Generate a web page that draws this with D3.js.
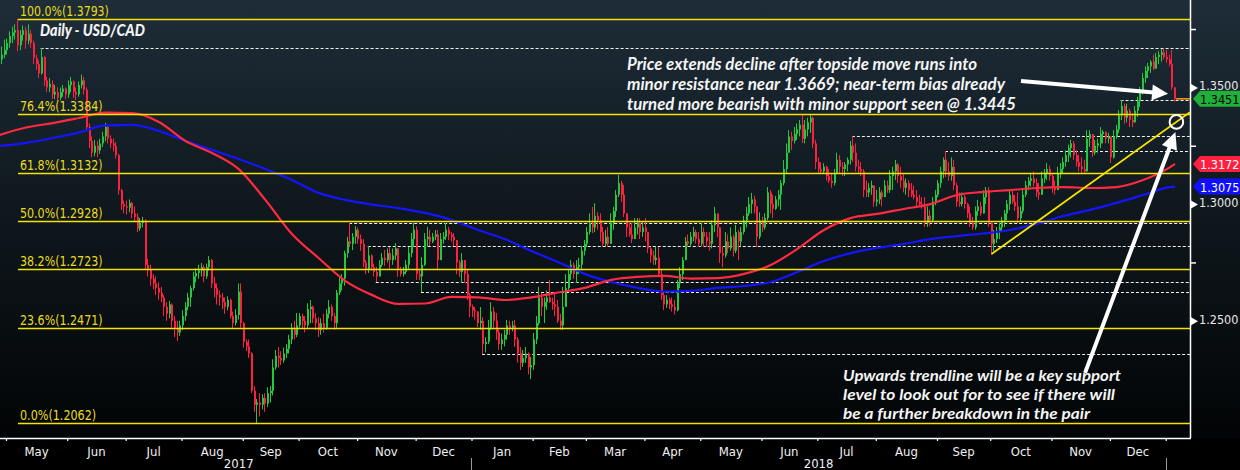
<!DOCTYPE html>
<html><head><meta charset="utf-8">
<script src="https://cdn.jsdelivr.net/npm/d3@7"></script>
<style>html,body{margin:0;padding:0;background:#000;} svg{display:block;}</style>
</head><body>
<svg id="chart" width="1240" height="470"></svg>
<script>
// ---------------- DATA ----------------
const startDate = "2017-04-26";   // first daily bar (weekdays follow)
const firstOpen = 1.3570;
const closes = [
 1.3620,1.3640,1.3660,
 1.3690,1.3720,1.3735,1.3745,1.3680, 1.3725,1.3745,1.3700,1.3730,1.3690,
 1.3625,1.3600,1.3560,1.3630,1.3530, 1.3500,1.3515,1.3470,1.3480,1.3455,
 1.3480,1.3495,1.3470,1.3510,1.3525, 1.3480,1.3470,1.3510,1.3530,1.3490,
 1.3330,1.3270,1.3220,1.3250,1.3230, 1.3260,1.3290,1.3330,1.3280,1.3260,
 1.3250,1.3210,1.3060,1.3000,1.2990, 1.2985,1.3005,1.2960,1.2945,1.2895,
 1.2920,1.2930,1.2740,1.2720,1.2680, 1.2660,1.2640,1.2620,1.2600,1.2560,
 1.2530,1.2570,1.2500,1.2470,1.2450, 1.2480,1.2520,1.2560,1.2600,1.2640,
 1.2690,1.2705,1.2715,1.2730,1.2690, 1.2730,1.2760,1.2660,1.2640,1.2610,
 1.2600,1.2580,1.2560,1.2590,1.2520, 1.2490,1.2525,1.2625,1.2490,1.2410,
 1.2390,1.2360,1.2200,1.2140,1.2150, 1.2140,1.2170,1.2145,1.2190,1.2200,
 1.2300,1.2350,1.2340,1.2330,1.2360, 1.2380,1.2420,1.2470,1.2440,1.2480,
 1.2520,1.2500,1.2480,1.2550,1.2560, 1.2510,1.2490,1.2460,1.2490,1.2470,
 1.2530,1.2560,1.2520,1.2490,1.2620, 1.2660,1.2680,1.2790,1.2840,1.2830,
 1.2860,1.2890,1.2850,1.2830,1.2750, 1.2720,1.2780,1.2730,1.2710,1.2690,
 1.2740,1.2770,1.2760,1.2790,1.2760, 1.2780,1.2810,1.2720,1.2700,1.2710,
 1.2740,1.2790,1.2850,1.2890,1.2700, 1.2690,1.2740,1.2850,1.2860,1.2840,
 1.2860,1.2870,1.2760,1.2850,1.2860, 1.2890,1.2870,1.2860,1.2845,1.2750,
 1.2710,1.2760,1.2700,1.2610,1.2560, 1.2545,1.2540,1.2490,1.2500,1.2400,
 1.2410,1.2470,1.2540,1.2500,1.2450, 1.2400,1.2420,1.2440,1.2480,1.2470,
 1.2480,1.2420,1.2360,1.2320,1.2340, 1.2360,1.2300,1.2310,1.2420,1.2490,
 1.2600,1.2560,1.2580,1.2600,1.2580, 1.2570,1.2560,1.2500,1.2480,1.2560,
 1.2640,1.2700,1.2740,1.2700,1.2730, 1.2740,1.2800,1.2830,1.2880,1.2920,
 1.2900,1.2950,1.2930,1.2880,1.2830, 1.2860,1.2830,1.2920,1.2970,1.3040,
 1.3090,1.3040,1.2960,1.2900,1.2870, 1.2850,1.2900,1.2920,1.2880,1.2900,
 1.2880,1.2810,1.2780,1.2760,1.2770, 1.2700,1.2610,1.2570,1.2590,1.2570,
 1.2560,1.2545,1.2660,1.2700,1.2760, 1.2840,1.2830,1.2860,1.2880,1.2850,
 1.2830,1.2880,1.2860,1.2840,1.2830, 1.2910,1.2960,1.2900,1.2790,1.2780,
 1.2840,1.2810,1.2860,1.2800,1.2880, 1.2840,1.2880,1.2930,1.2960,1.3000,
 1.3020,1.2990,1.2860,1.2930,1.2900, 1.2940,1.3050,1.3000,1.2980,1.3020,
 1.3040,1.3090,1.3150,1.3220,1.3290, 1.3270,1.3300,1.3320,1.3340,1.3280,
 1.3320,1.3350,1.3370,1.3260,1.3180, 1.3150,1.3140,1.3160,1.3120,1.3100,
 1.3090,1.3130,1.3190,1.3160,1.3150, 1.3170,1.3190,1.3250,1.3220,1.3160,
 1.3150,1.3140,1.3060,1.3050,1.3070, 1.3080,1.3010,1.3020,1.3050,1.3030,
 1.3080,1.3060,1.3120,1.3140,1.3170, 1.3120,1.3100,1.3070,1.3090,1.3060,
 1.3040,1.3030,1.3010,1.3000,1.2990, 1.2920,1.2950,1.2930,1.3010,1.3040,
 1.3090,1.3140,1.3190,1.3140,1.3120, 1.3160,1.3080,1.3010,1.3000,1.3030,
 1.3000,1.2960,1.2920,1.2900,1.2970, 1.2990,1.2960,1.3030,1.3060,1.2920,
 1.2830,1.2850,1.2880,1.2900,1.2930, 1.2960,1.3000,1.3040,1.3010,1.2990,
 1.2940,1.2970,1.3040,1.3080,1.3100, 1.3110,1.3090,1.3050,1.3040,1.3110,
 1.3130,1.3150,1.3120,1.3070,1.3060, 1.3130,1.3150,1.3180,1.3210,1.3240,
 1.3260,1.3210,1.3180,1.3160,1.3150, 1.3140,1.3280,1.3300,1.3220,1.3250,
 1.3260,1.3300,1.3310,1.3280,1.3290, 1.3200,1.3290,1.3320,1.3380,1.3420,
 1.3370,1.3400,1.3360,1.3350,1.3400, 1.3440,1.3480,1.3540,1.3570,1.3590,
 1.3610,1.3580,1.3630,1.3640,1.3650, 1.3630,1.3620,1.3600,1.3500,1.3451
];
const highs = [
 1.3660,1.3675,1.3705,
 1.3710,1.3740,1.3760,1.3770,1.3793, 1.3745,1.3765,1.3760,1.3770,1.3745,
 1.3700,1.3640,1.3615,1.3669,1.3635, 1.3545,1.3540,1.3530,1.3510,1.3500,
 1.3500,1.3510,1.3500,1.3530,1.3545, 1.3530,1.3500,1.3525,1.3555,1.3545,
 1.3500,1.3345,1.3290,1.3275,1.3270, 1.3280,1.3310,1.3348,1.3335,1.3295,
 1.3280,1.3265,1.3215,1.3065,1.3015, 1.3015,1.3020,1.3010,1.2990,1.2960,
 1.2940,1.2945,1.2935,1.2765,1.2740, 1.2700,1.2690,1.2665,1.2645,1.2610,
 1.2580,1.2585,1.2575,1.2520,1.2500, 1.2500,1.2545,1.2580,1.2620,1.2650,
 1.2710,1.2725,1.2740,1.2748,1.2740, 1.2745,1.2777,1.2765,1.2688,1.2660,
 1.2630,1.2620,1.2600,1.2605,1.2595, 1.2540,1.2550,1.2660,1.2660,1.2495,
 1.2420,1.2420,1.2365,1.2220,1.2165, 1.2190,1.2185,1.2190,1.2215,1.2220,
 1.2335,1.2375,1.2388,1.2370,1.2385, 1.2400,1.2440,1.2490,1.2500,1.2533,
 1.2533,1.2530,1.2520,1.2575,1.2589, 1.2565,1.2533,1.2515,1.2510,1.2530,
 1.2550,1.2589,1.2570,1.2533,1.2632, 1.2690,1.2700,1.2800,1.2860,1.2919,
 1.2876,1.2905,1.2900,1.2870,1.2850, 1.2760,1.2820,1.2785,1.2745,1.2731,
 1.2760,1.2790,1.2803,1.2810,1.2816, 1.2810,1.2833,1.2810,1.2731,1.2731,
 1.2760,1.2816,1.2876,1.2919,1.2905, 1.2718,1.2773,1.2876,1.2902,1.2890,
 1.2876,1.2889,1.2889,1.2876,1.2880, 1.2919,1.2902,1.2880,1.2876,1.2846,
 1.2760,1.2790,1.2760,1.2720,1.2620, 1.2570,1.2560,1.2540,1.2559,1.2516,
 1.2430,1.2504,1.2580,1.2560,1.2533, 1.2461,1.2445,1.2461,1.2504,1.2500,
 1.2500,1.2504,1.2430,1.2388,1.2375, 1.2388,1.2365,1.2345,1.2448,1.2520,
 1.2645,1.2620,1.2600,1.2630,1.2675, 1.2600,1.2618,1.2589,1.2530,1.2645,
 1.2700,1.2720,1.2760,1.2750,1.2760, 1.2770,1.2820,1.2846,1.2902,1.2960,
 1.2988,1.3003,1.2965,1.2960,1.2902, 1.2890,1.2902,1.2960,1.2988,1.3060,
 1.3125,1.3100,1.3082,1.2960,1.2919, 1.2919,1.2940,1.2940,1.2940,1.2925,
 1.2940,1.2880,1.2816,1.2800,1.2816, 1.2816,1.2718,1.2618,1.2610,1.2600,
 1.2600,1.2589,1.2675,1.2730,1.2773, 1.2859,1.2870,1.2880,1.2902,1.2890,
 1.2880,1.2919,1.2900,1.2880,1.2880, 1.2930,1.2988,1.2960,1.2900,1.2816,
 1.2880,1.2870,1.2900,1.2870,1.2911, 1.2890,1.2902,1.2950,1.2988,1.3030,
 1.3048,1.3035,1.2990,1.2965,1.2945, 1.2960,1.3073,1.3060,1.3040,1.3035,
 1.3060,1.3103,1.3189,1.3260,1.3317, 1.3310,1.3330,1.3345,1.3360,1.3382,
 1.3360,1.3370,1.3386,1.3375,1.3275, 1.3200,1.3180,1.3175,1.3165,1.3150,
 1.3130,1.3150,1.3220,1.3210,1.3180, 1.3180,1.3200,1.3270,1.3292,1.3260,
 1.3190,1.3180,1.3150,1.3100,1.3090, 1.3100,1.3073,1.3060,1.3073,1.3060,
 1.3103,1.3100,1.3146,1.3160,1.3189, 1.3176,1.3160,1.3130,1.3110,1.3103,
 1.3090,1.3080,1.3060,1.3040,1.3030, 1.3030,1.2990,1.2975,1.3030,1.3060,
 1.3103,1.3160,1.3200,1.3227,1.3180, 1.3200,1.3190,1.3091,1.3050,1.3050,
 1.3040,1.3005,1.2990,1.2945,1.2990, 1.3018,1.3010,1.3060,1.3073,1.3073,
 1.2920,1.2889,1.2902,1.2920,1.2945, 1.2975,1.3018,1.3060,1.3060,1.3040,
 1.3050,1.2990,1.3060,1.3100,1.3116, 1.3130,1.3140,1.3110,1.3090,1.3140,
 1.3150,1.3176,1.3165,1.3130,1.3100, 1.3160,1.3176,1.3200,1.3230,1.3255,
 1.3275,1.3270,1.3230,1.3210,1.3200, 1.3190,1.3317,1.3317,1.3290,1.3275,
 1.3280,1.3330,1.3317,1.3305,1.3305, 1.3290,1.3317,1.3340,1.3403,1.3446,
 1.3430,1.3430,1.3410,1.3390,1.3420, 1.3460,1.3502,1.3562,1.3590,1.3605,
 1.3617,1.3640,1.3648,1.3655,1.3665, 1.3665,1.3660,1.3640,1.3660,1.3497
];
const lows = [
 1.3560,1.3600,1.3625,
 1.3640,1.3670,1.3690,1.3705,1.3655, 1.3660,1.3700,1.3665,1.3685,1.3670,
 1.3600,1.3575,1.3540,1.3555,1.3505, 1.3480,1.3480,1.3450,1.3450,1.3440,
 1.3445,1.3460,1.3450,1.3455,1.3480, 1.3455,1.3445,1.3460,1.3495,1.3470,
 1.3320,1.3240,1.3200,1.3205,1.3200, 1.3215,1.3245,1.3270,1.3260,1.3240,
 1.3225,1.3195,1.3040,1.2975,1.2960, 1.2955,1.2965,1.2940,1.2925,1.2880,
 1.2885,1.2900,1.2720,1.2690,1.2650, 1.2635,1.2610,1.2590,1.2580,1.2520,
 1.2500,1.2510,1.2470,1.2430,1.2413, 1.2435,1.2460,1.2500,1.2545,1.2560,
 1.2630,1.2665,1.2680,1.2690,1.2665, 1.2680,1.2715,1.2640,1.2600,1.2570,
 1.2565,1.2550,1.2530,1.2545,1.2510, 1.2470,1.2480,1.2505,1.2470,1.2385,
 1.2370,1.2340,1.2190,1.2110,1.2062, 1.2090,1.2120,1.2110,1.2130,1.2150,
 1.2180,1.2290,1.2300,1.2310,1.2320, 1.2340,1.2360,1.2400,1.2420,1.2430,
 1.2470,1.2465,1.2450,1.2470,1.2490, 1.2490,1.2460,1.2430,1.2440,1.2450,
 1.2461,1.2510,1.2500,1.2461,1.2470, 1.2610,1.2630,1.2650,1.2770,1.2816,
 1.2803,1.2830,1.2830,1.2800,1.2730, 1.2700,1.2705,1.2715,1.2690,1.2666,
 1.2700,1.2731,1.2735,1.2750,1.2718, 1.2740,1.2760,1.2688,1.2690,1.2690,
 1.2700,1.2718,1.2773,1.2816,1.2675, 1.2675,1.2623,1.2735,1.2816,1.2820,
 1.2833,1.2846,1.2718,1.2760,1.2830, 1.2846,1.2846,1.2840,1.2820,1.2700,
 1.2688,1.2662,1.2662,1.2589,1.2516, 1.2516,1.2505,1.2473,1.2461,1.2358,
 1.2365,1.2400,1.2461,1.2470,1.2418, 1.2375,1.2375,1.2390,1.2418,1.2440,
 1.2455,1.2388,1.2320,1.2289,1.2302, 1.2320,1.2270,1.2250,1.2290,1.2400,
 1.2480,1.2520,1.2490,1.2547,1.2576, 1.2547,1.2520,1.2490,1.2461,1.2461,
 1.2576,1.2630,1.2675,1.2680,1.2662, 1.2700,1.2718,1.2780,1.2816,1.2870,
 1.2876,1.2880,1.2890,1.2840,1.2816, 1.2820,1.2816,1.2846,1.2890,1.2945,
 1.3030,1.3010,1.2945,1.2859,1.2860, 1.2833,1.2850,1.2870,1.2850,1.2860,
 1.2840,1.2790,1.2748,1.2740,1.2740, 1.2688,1.2589,1.2546,1.2555,1.2550,
 1.2540,1.2527,1.2540,1.2640,1.2675, 1.2760,1.2816,1.2816,1.2840,1.2830,
 1.2816,1.2820,1.2816,1.2816,1.2800, 1.2810,1.2880,1.2859,1.2748,1.2730,
 1.2770,1.2790,1.2800,1.2775,1.2790, 1.2760,1.2820,1.2870,1.2900,1.2950,
 1.2960,1.2960,1.2816,1.2850,1.2880, 1.2890,1.2930,1.2960,1.2940,1.2975,
 1.2990,1.2975,1.3080,1.3130,1.3220, 1.3232,1.3260,1.3275,1.3290,1.3262,
 1.3260,1.3290,1.3305,1.3240,1.3150, 1.3133,1.3133,1.3130,1.3100,1.3090,
 1.3070,1.3080,1.3130,1.3130,1.3120, 1.3120,1.3140,1.3170,1.3180,1.3140,
 1.3130,1.3120,1.3030,1.3030,1.3030, 1.3040,1.2988,1.2990,1.3000,1.2990,
 1.3040,1.3048,1.3048,1.3060,1.3103, 1.3090,1.3070,1.3050,1.3040,1.3030,
 1.3030,1.3020,1.2990,1.2990,1.2980, 1.2902,1.2902,1.2905,1.2925,1.2995,
 1.3030,1.3070,1.3110,1.3116,1.3100, 1.3100,1.3060,1.2988,1.2988,1.2990,
 1.2980,1.2940,1.2902,1.2889,1.2890, 1.2950,1.2950,1.2960,1.3000,1.2902,
 1.2783,1.2800,1.2833,1.2850,1.2880, 1.2902,1.2930,1.2975,1.3000,1.2970,
 1.2919,1.2925,1.2960,1.3030,1.3060, 1.3075,1.3075,1.3030,1.3018,1.3040,
 1.3090,1.3103,1.3100,1.3048,1.3040, 1.3060,1.3110,1.3133,1.3160,1.3180,
 1.3200,1.3189,1.3160,1.3140,1.3133, 1.3130,1.3140,1.3245,1.3202,1.3210,
 1.3220,1.3240,1.3260,1.3260,1.3260, 1.3176,1.3195,1.3280,1.3305,1.3360,
 1.3345,1.3350,1.3330,1.3330,1.3350, 1.3373,1.3416,1.3470,1.3520,1.3540,
 1.3562,1.3574,1.3585,1.3600,1.3610, 1.3620,1.3605,1.3590,1.3490,1.3440
];
// moving averages sampled every 10 bars (last value = last bar)
const maStep = 10;
const maRed = [1.3296,1.3328,1.3347,1.3369,1.3392,1.3390,1.3352,1.3270,1.3219,1.3150,
 1.3018,1.2872,1.2769,1.2671,1.2611,1.2572,1.2574,1.2602,1.2600,1.2589,
 1.2600,1.2621,1.2641,1.2675,1.2688,1.2692,1.2681,1.2683,1.2701,1.2739,
 1.2808,1.2889,1.2940,1.2958,1.2979,1.3000,1.3039,1.3052,1.3060,1.3069,
 1.3073,1.3069,1.3073,1.3103,1.3157,1.3172];
const maBlue = [1.3249,1.3262,1.3283,1.3307,1.3337,1.3339,1.3313,1.3270,1.3232,1.3193,
 1.3150,1.3103,1.3048,1.3018,1.2998,1.2983,1.2962,1.2932,1.2889,1.2850,
 1.2799,1.2752,1.2701,1.2666,1.2641,1.2625,1.2628,1.2641,1.2649,1.2666,
 1.2709,1.2756,1.2790,1.2812,1.2829,1.2850,1.2863,1.2874,1.2889,1.2915,
 1.2949,1.2975,1.3005,1.3039,1.3073,1.3075];
const fibPct = ["100.0%","76.4%","61.8%","50.0%","38.2%","23.6%","0.0%"];
const fibValues = [1.3793,1.3384,1.3132,1.2928,1.2723,1.2471,1.2062];
const fibFrom = "2017-05-05";
const dottedFrom = ["2017-05-18","2017-10-27","2017-11-07","2017-11-10","2017-12-05","2018-01-05","2018-07-19","2018-09-06","2018-12-07"];
const dottedValues = [1.3669,1.2919,1.2820,1.2666,1.2623,1.2358,1.3292,1.3227,1.3445];
const trendDates = ["2018-10-01","2019-01-04"];
const trendValues = [1.2786,1.3348];
const axisTicks = [1.25,1.30,1.35];
const minorTicks = [1.275,1.325,1.375];
const boxValues = [1.3451,1.3172,1.3075];
const title = "Daily - USD/CAD";
const note1 = ["Price extends decline after topside move runs into",
               "minor resistance near 1.3669; near-term bias already",
               "turned more bearish with minor support seen @ 1.3445"];
const note2 = ["Upwards trendline will be a key support",
               "level to look out for to see if there will",
               "be a further breakdown in the pair"];

// ---------------- BUILD ----------------
const n = closes.length;
const dates = [];
{ let d = new Date(startDate + "T00:00:00Z");
  while (dates.length < n) { const wd = d.getUTCDay(); if (wd !== 0 && wd !== 6) dates.push(new Date(d)); d = new Date(d.getTime() + 86400000); } }
const iso = d => d.toISOString().slice(0,10);
const idxOf = {}; dates.forEach((d,i)=> idxOf[iso(d)] = i);
const bars = closes.map((c,i) => {
  const o = i === 0 ? firstOpen : closes[i-1];
  return {i, o, c, h: Math.max(highs[i], o, c), l: Math.min(lows[i], o, c)};
});

const W = 1240, H = 470, plotR = 1190, plotB = 438;
const x = d3.scaleLinear().domain([3, 439]).range([6, 6 + 436*2.66]);
const y = d3.scaleLinear().domain([1.2062, 1.3793]).range([423, 19]);
const cx = i => x(i + 0.5);

const svg = d3.select("#chart");
const defs = svg.append("defs");
const grad = defs.append("linearGradient").attr("id","bg").attr("x1",0).attr("x2",0).attr("y1",0).attr("y2",1);
grad.append("stop").attr("offset","0%").attr("stop-color","#1e2d38");
grad.append("stop").attr("offset","45%").attr("stop-color","#10191f");
grad.append("stop").attr("offset","100%").attr("stop-color","#020405");
defs.append("clipPath").attr("id","plot").append("rect").attr("x",0).attr("y",0).attr("width",plotR).attr("height",plotB);

svg.append("rect").attr("width",W).attr("height",H).attr("fill","#000");
svg.append("rect").attr("width",W).attr("height",plotB).attr("fill","url(#bg)");

const g = svg.append("g").attr("clip-path","url(#plot)");
const narrow = "'Liberation Sans Narrow','DejaVu Sans Condensed','Arial Narrow',sans-serif";
const hand = "Lato,'Open Sans',sans-serif";

// dotted levels
g.append("g").selectAll("line").data(dottedValues).join("line")
  .attr("x1",(d,k)=> x(idxOf[dottedFrom[k]]) ).attr("x2",plotR)
  .attr("y1",d=>Math.round(y(d))+0.5).attr("y2",d=>Math.round(y(d))+0.5)
  .attr("stroke","#f2f2f2").attr("stroke-width",1.2).attr("stroke-dasharray","3,2");

// candles
const cg = g.append("g");
const up = "#22c93c", dn = "#ff1f3f";
cg.selectAll("rect.w").data(bars).join("rect").attr("class","w")
  .attr("x",d=>Math.round(cx(d.i))-1).attr("width",1)
  .attr("y",d=>y(d.h)).attr("height",d=>Math.max(1,y(d.l)-y(d.h)))
  .attr("fill",d=>d.c>=d.o?up:dn);
cg.selectAll("rect.b").data(bars).join("rect").attr("class","b")
  .attr("x",d=>Math.round(cx(d.i))-1).attr("width",2)
  .attr("y",d=>y(Math.max(d.o,d.c))).attr("height",d=>Math.max(1.2,Math.abs(y(d.o)-y(d.c))))
  .attr("fill",d=>d.c>=d.o?up:dn);

// moving averages
const maLine = d3.line().x(d=>cx(d.idx)).y(d=>y(d.v)).curve(d3.curveMonotoneX);
const maPts = arr => arr.map((v,j)=>({idx: Math.min(j*maStep, n-1), v}));
g.append("path").attr("d",maLine(maPts(maBlue))).attr("fill","none").attr("stroke","#1414ff").attr("stroke-width",2.2);
g.append("path").attr("d",maLine(maPts(maRed))).attr("fill","none").attr("stroke","#ff2a40").attr("stroke-width",2.2);

// fibonacci lines + labels
const fx0 = cx(idxOf[fibFrom]);
g.append("g").selectAll("line").data(fibValues).join("line")
  .attr("x1",fx0).attr("x2",plotR).attr("y1",d=>Math.round(y(d))+0.5).attr("y2",d=>Math.round(y(d))+0.5)
  .attr("stroke","#f5e400").attr("stroke-width",1.6);
svg.append("g").selectAll("text").data(fibValues).join("text")
  .attr("x",20).attr("y",d=>y(d)-3)
  .attr("font-family",narrow).attr("font-size",14.5).attr("fill","#eadc1c")
  .text((d,k)=>fibPct[k]+"("+d.toFixed(4)+")")
  .attr("textLength",(d,k)=>6.35*(fibPct[k]+"("+d.toFixed(4)+")").length).attr("lengthAdjust","spacingAndGlyphs");

// trendline
const ti0 = idxOf[trendDates[0]], ti1 = idxOf[trendDates[1]];
const slope = (trendValues[1]-trendValues[0])/(ti1-ti0);
const tEndIdx = x.invert(plotR) - 0.5;
g.append("line").attr("x1",cx(ti0)).attr("y1",y(trendValues[0]))
  .attr("x2",cx(tEndIdx)).attr("y2",y(trendValues[0]+slope*(tEndIdx-ti0)))
  .attr("stroke","#f5e400").attr("stroke-width",1.8);
const circIdx = ti1 + 0.5;
const circX = cx(circIdx), circY = y(trendValues[0]+slope*(circIdx-ti0));
g.append("circle").attr("cx",circX).attr("cy",circY).attr("r",6.8)
  .attr("fill","none").attr("stroke","#fff").attr("stroke-width",2);

// last price marker
const lastI = n-1;
g.append("line").attr("x1",cx(lastI)+1).attr("x2",plotR).attr("y1",y(closes[lastI])).attr("y2",y(closes[lastI]))
  .attr("stroke","#ff9a1a").attr("stroke-width",1.5);

// axes lines
svg.append("line").attr("x1",plotR+0.5).attr("x2",plotR+0.5).attr("y1",0).attr("y2",plotB).attr("stroke","#fff").attr("stroke-width",1.5);
svg.append("line").attr("x1",0).attr("x2",plotR+1).attr("y1",plotB+0.5).attr("y2",plotB+0.5).attr("stroke","#fff").attr("stroke-width",1.5);

// right axis
const ra = svg.append("g").attr("transform",`translate(${plotR+1},0)`)
  .call(d3.axisRight(y).tickValues(axisTicks).tickSize(0).tickPadding(8).tickFormat(d3.format(".4f")));
ra.select(".domain").remove();
ra.selectAll("text").attr("font-family",narrow).attr("font-size",12.5).attr("fill","#e8e8e8").attr("dy","0.2em");
ra.selectAll(".tick").append("path").attr("d","M0,-4L7,0L0,4Z").attr("fill","#fff");
const rm = svg.append("g").attr("transform",`translate(${plotR+1},0)`)
  .call(d3.axisRight(y).tickValues(minorTicks).tickSize(5).tickFormat(""));
rm.select(".domain").remove();
rm.selectAll("line").attr("stroke","#fff").attr("stroke-width",1.5);

// value boxes
const boxFill = ["#1faf3a","#ff1f3f","#1010ff"], boxText = ["#000","#fff","#fff"];
const bg = svg.append("g").selectAll("g").data(boxValues).join("g").attr("transform",d=>`translate(0,${y(d)})`);
bg.append("path").attr("d","M1193,0L1200,-8L1240,-8L1240,8L1200,8Z").attr("fill",(d,k)=>boxFill[k]);
bg.append("text").attr("x",1200).attr("y",5).attr("font-family",narrow).attr("font-size",12.5)
  .attr("fill",(d,k)=>boxText[k]).text(d=>d.toFixed(4));

// bottom axis: month ticks / labels / years
const monthStarts = [];
for (let i=1;i<n;i++) if (dates[i].getUTCMonth() !== dates[i-1].getUTCMonth()) monthStarts.push(i);
const ba = svg.append("g").attr("transform",`translate(0,${plotB})`)
  .call(d3.axisBottom(x).tickValues(monthStarts).tickSize(3).tickFormat(""));
ba.select(".domain").remove();
ba.selectAll("line").attr("stroke","#fff").attr("stroke-width",1.2);
const fmtM = d3.utcFormat("%b");
const mLabels = monthStarts.slice(0,-1).map((s,k)=>({s, e: monthStarts[k+1]}));
svg.append("g").selectAll("text").data(mLabels).join("text")
  .attr("x",d=>(x(d.s)+x(d.e))/2).attr("y",456).attr("text-anchor","middle")
  .attr("font-family",narrow).attr("font-size",13).attr("fill","#f0f0f0")
  .text(d=>fmtM(dates[d.s]));
const yearStarts = monthStarts.filter(i=>dates[i].getUTCMonth()===0);
const ySpans = [{s: monthStarts[0], e: yearStarts[0]}, {s: yearStarts[0], e: yearStarts[1]}];
svg.append("g").selectAll("text").data(ySpans).join("text")
  .attr("x",d=>(x(d.s)+x(d.e))/2).attr("y",468).attr("text-anchor","middle")
  .attr("font-family",narrow).attr("font-size",13).attr("fill","#f0f0f0")
  .text(d=>dates[d.s].getUTCFullYear());
svg.append("g").selectAll("line").data(yearStarts).join("line")
  .attr("x1",d=>Math.round(x(d))+0.5).attr("x2",d=>Math.round(x(d))+0.5).attr("y1",458).attr("y2",470)
  .attr("stroke","#9a9a9a").attr("stroke-width",1);

// title
svg.append("text").attr("x",40).attr("y",36).attr("font-family",hand).attr("font-weight","900")
  .attr("font-style","italic").attr("font-size",16).attr("fill","#f2f2f2")
  .attr("textLength",105).attr("lengthAdjust","spacingAndGlyphs").text(title);

// annotations
const n1W = [350,378,389], n2W = [278,272,247];
svg.append("g").selectAll("text").data(note1).join("text")
  .attr("x",627).attr("y",(d,k)=>70+k*20).attr("font-family",hand).attr("font-weight","bold")
  .attr("font-style","italic").attr("font-size",16.5).attr("fill","#f4f4f4")
  .attr("textLength",(d,k)=>n1W[k]).attr("lengthAdjust","spacingAndGlyphs").text(d=>d);
svg.append("g").selectAll("text").data(note2).join("text")
  .attr("x",843).attr("y",(d,k)=>381+k*18.8).attr("font-family",hand).attr("font-weight","bold")
  .attr("font-style","italic").attr("font-size",16).attr("fill","#f4f4f4")
  .attr("textLength",(d,k)=>n2W[k]).attr("lengthAdjust","spacingAndGlyphs").text(d=>d);

function arrow(x0,y0,x1,y1,hl,hw){
  const dx=x1-x0, dy=y1-y0, L=Math.hypot(dx,dy), ux=dx/L, uy=dy/L;
  const bx=x1-ux*hl, by=y1-uy*hl;
  svg.append("line").attr("x1",x0).attr("y1",y0).attr("x2",bx+ux*2).attr("y2",by+uy*2)
    .attr("stroke","#fff").attr("stroke-width",4);
  svg.append("path").attr("d",`M${x1},${y1}L${bx-uy*hw},${by+ux*hw}L${bx+uy*hw},${by-ux*hw}Z`).attr("fill","#fff");
}
arrow(1021, 81, cx(lastI)-7, y(closes[lastI])-5, 16, 8);
arrow(1085, 373, circX-1, circY+10, 17, 8);
</script>
</body></html>
